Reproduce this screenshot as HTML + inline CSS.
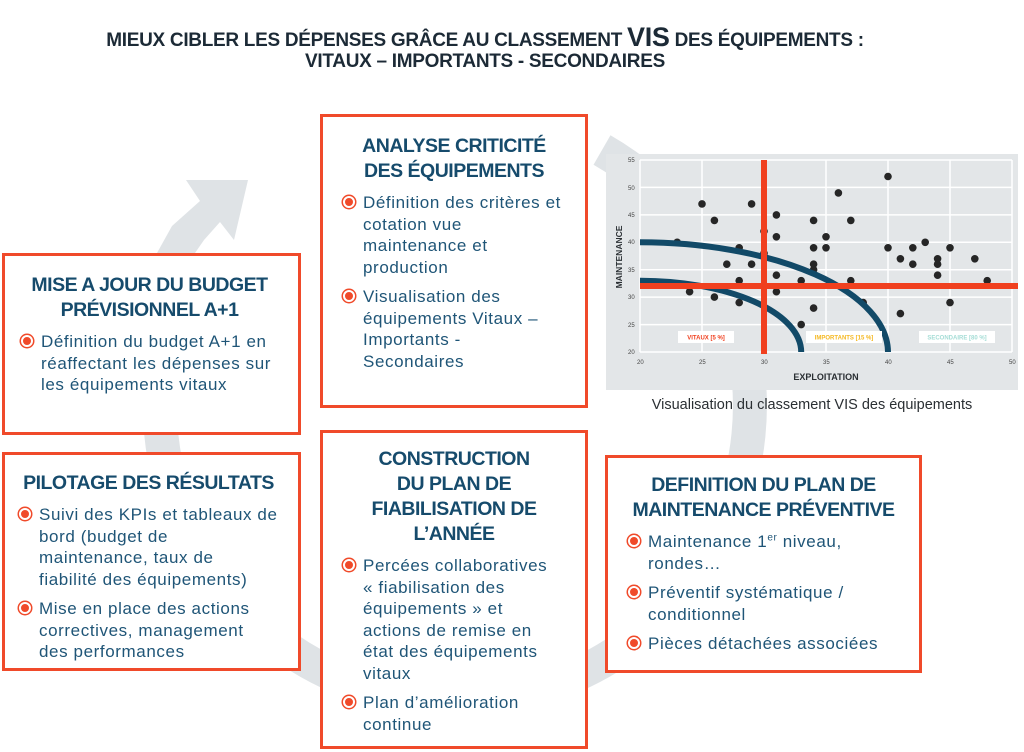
<!DOCTYPE html>
<html><head><meta charset="utf-8"><style>
body{margin:0;width:1024px;height:752px;background:#fff;position:relative;overflow:hidden;font-family:"Liberation Sans",sans-serif}
.t{position:absolute;left:0;width:970px;text-align:center;font-weight:bold;color:#1c2a36;font-size:19px;letter-spacing:-0.3px}
.box{position:absolute;border:3px solid #f04a2a;background:#fff;box-sizing:border-box}
.h{font-weight:900;color:#164b6c;font-size:19.5px;text-align:center;line-height:25px;letter-spacing:-0.5px}
ul{list-style:none;margin:0;padding:0}
li{position:relative;padding-left:34px;color:#1f5577;font-size:17px;line-height:21.5px;margin-top:8px;letter-spacing:0.6px;white-space:nowrap}
li:before{content:"";position:absolute;left:14px;top:4px;width:8px;height:8px;border-radius:50%;background:#f04a2a;border:2.5px solid #fff;box-shadow:0 0 0 1.5px #f04a2a}
</style></head><body>
<svg width="1024" height="752" style="position:absolute;left:0;top:0">
<path d="M 602 150 A 295 295 0 1 1 178 304" fill="none" stroke="#dfe3e6" stroke-width="34"/>
<polygon points="150,310 157,253 172,226 200,201 186,180 248,180 234,240 220,222 204,240 195,253 196,310" fill="#dfe3e6"/>
</svg>
<div class="t" style="top:22px">MIEUX CIBLER LES DÉPENSES GRÂCE AU CLASSEMENT <span style="font-size:27px">VIS</span> DES ÉQUIPEMENTS :</div>
<div class="t" style="top:51px">VITAUX – IMPORTANTS - SECONDAIRES</div>

<div class="box" style="left:2px;top:253px;width:299px;height:182px;padding:17px 6px 0 2px">
<div class="h">MISE A JOUR DU BUDGET<br>PRÉVISIONNEL A+1</div>
<ul><li>Définition du budget A+1 en<br>réaffectant les dépenses sur<br>les équipements vitaux</li></ul></div>

<div class="box" style="left:320px;top:114px;width:268px;height:294px;padding:17px 6px 0 6px">
<div class="h">ANALYSE CRITICITÉ<br>DES ÉQUIPEMENTS</div>
<ul><li>Définition des critères et<br>cotation vue<br>maintenance et<br>production</li>
<li>Visualisation des<br>équipements Vitaux –<br>Importants -<br>Secondaires</li></ul></div>

<div class="box" style="left:2px;top:452px;width:299px;height:219px;padding:16px 6px 0 0">
<div class="h">PILOTAGE DES RÉSULTATS</div>
<ul><li>Suivi des KPIs et tableaux de<br>bord (budget de<br>maintenance, taux de<br>fiabilité des équipements)</li>
<li>Mise en place des actions<br>correctives, management<br>des performances</li></ul></div>

<div class="box" style="left:320px;top:430px;width:268px;height:319px;padding:14px 6px 0 6px">
<div class="h">CONSTRUCTION<br>DU PLAN DE<br>FIABILISATION DE<br>L’ANNÉE</div>
<ul style="margin-top:8px"><li>Percées collaboratives<br>« fiabilisation des<br>équipements » et<br>actions de remise en<br>état des équipements<br>vitaux</li>
<li>Plan d’amélioration<br>continue</li></ul></div>

<div class="box" style="left:605px;top:455px;width:317px;height:218px;padding:15px 6px 0 6px">
<div class="h">DEFINITION DU PLAN DE<br>MAINTENANCE PRÉVENTIVE</div>
<ul style="margin-top:4px"><li>Maintenance 1<sup style="font-size:10px;line-height:0">er</sup> niveau,<br>rondes…</li>
<li>Préventif systématique /<br>conditionnel</li><li>Pièces détachées associées</li></ul></div>

<svg width="412" height="236" style="position:absolute;left:606px;top:154px">
<rect width="412" height="236" fill="#e3e6e8"/>
<g stroke="#fff" stroke-width="1.5">
<line x1="34" y1="6" x2="34" y2="198"/><line x1="96" y1="6" x2="96" y2="198"/><line x1="158" y1="6" x2="158" y2="198"/><line x1="220" y1="6" x2="220" y2="198"/><line x1="282" y1="6" x2="282" y2="198"/><line x1="344" y1="6" x2="344" y2="198"/><line x1="406" y1="6" x2="406" y2="198"/>
<line x1="34" y1="6" x2="406" y2="6"/><line x1="34" y1="33.4" x2="406" y2="33.4"/><line x1="34" y1="60.9" x2="406" y2="60.9"/><line x1="34" y1="88.3" x2="406" y2="88.3"/><line x1="34" y1="115.7" x2="406" y2="115.7"/><line x1="34" y1="143.1" x2="406" y2="143.1"/><line x1="34" y1="170.6" x2="406" y2="170.6"/><line x1="34" y1="198" x2="406" y2="198"/>
</g>
<g font-size="6" fill="#444" font-family="Liberation Sans">
<text x="22" y="8">55</text><text x="22" y="36">50</text><text x="22" y="63">45</text><text x="22" y="90">40</text><text x="22" y="118">35</text><text x="22" y="145">30</text><text x="22" y="173">25</text><text x="22" y="200">20</text>
<text x="31" y="210">20</text><text x="93" y="210">25</text><text x="155" y="210">30</text><text x="217" y="210">35</text><text x="279" y="210">40</text><text x="341" y="210">45</text><text x="403" y="210">50</text>
</g>
<text x="220" y="226" text-anchor="middle" font-size="9" font-weight="bold" fill="#2a2f33">EXPLOITATION</text>
<text transform="translate(16,103) rotate(-90)" text-anchor="middle" font-size="8.5" font-weight="bold" fill="#2a2f33">MAINTENANCE</text>
<g fill="#262626">
<circle cx="71.2" cy="88.3" r="3.8"/><circle cx="83.6" cy="137.7" r="3.8"/><circle cx="96" cy="49.9" r="3.8"/><circle cx="108.4" cy="66.4" r="3.8"/><circle cx="108.4" cy="143.1" r="3.8"/><circle cx="120.8" cy="110.2" r="3.8"/><circle cx="133.2" cy="93.8" r="3.8"/><circle cx="133.2" cy="126.7" r="3.8"/><circle cx="133.2" cy="148.6" r="3.8"/><circle cx="145.6" cy="49.9" r="3.8"/><circle cx="145.6" cy="110.2" r="3.8"/><circle cx="158" cy="77.3" r="3.8"/><circle cx="158" cy="99.3" r="3.8"/><circle cx="170.4" cy="60.9" r="3.8"/><circle cx="170.4" cy="82.8" r="3.8"/><circle cx="170.4" cy="121.2" r="3.8"/><circle cx="170.4" cy="137.7" r="3.8"/><circle cx="195.2" cy="126.7" r="3.8"/><circle cx="195.2" cy="170.6" r="3.8"/><circle cx="207.6" cy="66.4" r="3.8"/><circle cx="207.6" cy="93.8" r="3.8"/><circle cx="207.6" cy="110.2" r="3.8"/><circle cx="207.6" cy="115.7" r="3.8"/><circle cx="207.6" cy="154.1" r="3.8"/><circle cx="220" cy="82.8" r="3.8"/><circle cx="220" cy="93.8" r="3.8"/><circle cx="232.4" cy="38.9" r="3.8"/><circle cx="244.8" cy="66.4" r="3.8"/><circle cx="244.8" cy="126.7" r="3.8"/><circle cx="257.2" cy="148.6" r="3.8"/><circle cx="282" cy="22.5" r="3.8"/><circle cx="282" cy="93.8" r="3.8"/><circle cx="294.4" cy="104.8" r="3.8"/><circle cx="294.4" cy="159.6" r="3.8"/><circle cx="306.8" cy="93.8" r="3.8"/><circle cx="306.8" cy="110.2" r="3.8"/><circle cx="319.2" cy="88.3" r="3.8"/><circle cx="331.6" cy="104.8" r="3.8"/><circle cx="331.6" cy="110.2" r="3.8"/><circle cx="331.6" cy="121.2" r="3.8"/><circle cx="344" cy="93.8" r="3.8"/><circle cx="344" cy="148.6" r="3.8"/><circle cx="368.8" cy="104.8" r="3.8"/><circle cx="381.2" cy="126.7" r="3.8"/>
</g>
<g fill="none" stroke="#124a68" stroke-width="6">
<path d="M 34 88.3 A 248 110 0 0 1 282 198"/>
<path d="M 34 126.7 A 161 71.3 0 0 1 195.2 198"/>
</g>
<g fill="#f0401f"><rect x="155" y="6" width="6" height="194"/><rect x="34" y="129" width="378" height="6"/></g>
<g font-size="6" font-weight="bold"><rect x="72" y="177" width="56" height="12" fill="#fff"/><text x="100" y="185.5" text-anchor="middle" fill="#f0401f">VITAUX [5 %]</text>
<rect x="200" y="177" width="76" height="12" fill="#fff"/><text x="238" y="185.5" text-anchor="middle" fill="#f5b821">IMPORTANTS [15 %]</text>
<rect x="313" y="177" width="76" height="12" fill="#fff"/><text x="351" y="185.5" text-anchor="middle" fill="#a5ddd6">SECONDAIRE [80 %]</text></g>
</svg>
<div style="position:absolute;left:606px;top:397px;width:412px;text-align:center;font-size:14.5px;color:#2a2f33">Visualisation du classement VIS des équipements</div>
</body></html>
